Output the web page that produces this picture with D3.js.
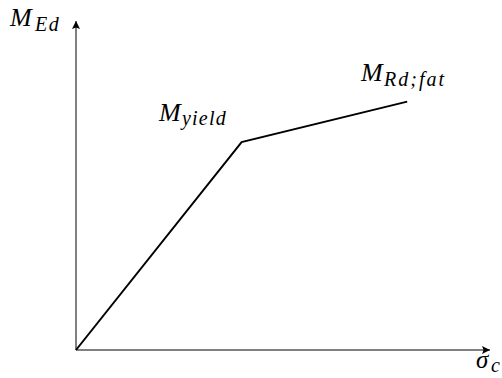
<!DOCTYPE html>
<html>
<head>
<meta charset="utf-8">
<script src="https://cdn.jsdelivr.net/npm/d3@7"></script>
<style>
  html, body { margin: 0; padding: 0; background: #fff; }
  svg text { font-family: "Liberation Serif", "Times New Roman", serif; font-style: italic; fill: #000; }
</style>
</head>
<body>
<svg id="chart" width="502" height="378"></svg>
<script>
// Bilinear moment curve: origin -> yield point -> fatigue resistance
const stress = [0, 4, 8];
const moment = [0, 6.32, 7.55];
const pointNames = [null, ["M", "yield"], ["M", "Rd;fat"]];
const axisNames = { x: ["σ", "c"], y: ["M", "Ed"] };

const svg = d3.select("#chart");
const x = d3.scaleLinear().domain([0, 10]).range([76, 490]);
const y = d3.scaleLinear().domain([0, 10]).range([350, 21]);

// arrow heads
svg.append("defs").append("marker")
  .attr("id", "arrow")
  .attr("viewBox", "0 0 10 10")
  .attr("refX", 10).attr("refY", 5)
  .attr("markerWidth", 10).attr("markerHeight", 8)
  .attr("markerUnits", "userSpaceOnUse")
  .attr("orient", "auto")
  .append("path").attr("d", "M0,0 L10,5 L0,10 L2,5 Z").attr("fill", "#000");

// axes
svg.append("line")
  .attr("x1", x(0)).attr("y1", y(0)).attr("x2", x(10)).attr("y2", y(0))
  .attr("stroke", "#000").attr("stroke-width", 1)
  .attr("marker-end", "url(#arrow)");
svg.append("line")
  .attr("x1", x(0)).attr("y1", y(0)).attr("x2", x(0)).attr("y2", y(10))
  .attr("stroke", "#000").attr("stroke-width", 1)
  .attr("marker-end", "url(#arrow)");

// curve
const pts = stress.map((s, i) => [s, moment[i]]);
svg.append("path")
  .attr("d", d3.line().x(d => x(d[0])).y(d => y(d[1]))(pts))
  .attr("fill", "none").attr("stroke", "#000").attr("stroke-width", 2)
  .attr("stroke-linejoin", "miter");

// math-style label: symbol plus italic subscript
function subLabel(parts, px, py, size, subX, subY, subSize, spacing) {
  const g = svg.append("g");
  g.append("text").attr("x", px).attr("y", py).attr("font-size", size).text(parts[0]);
  g.append("text").attr("x", subX).attr("y", subY)
    .attr("font-size", subSize).attr("letter-spacing", spacing).text(parts[1]);
  return g;
}

// axis names
subLabel(axisNames.y, 10, 26, 26, 35, 31, 20, 1.5);
subLabel(axisNames.x, 476, 368, 25, 491, 372, 20, 0);

// point names
subLabel(pointNames[1], 159, 121, 26, 182, 125, 20, 1.2);
subLabel(pointNames[2], 361, 81, 26, 384, 86, 20, 2);
</script>
</body>
</html>
